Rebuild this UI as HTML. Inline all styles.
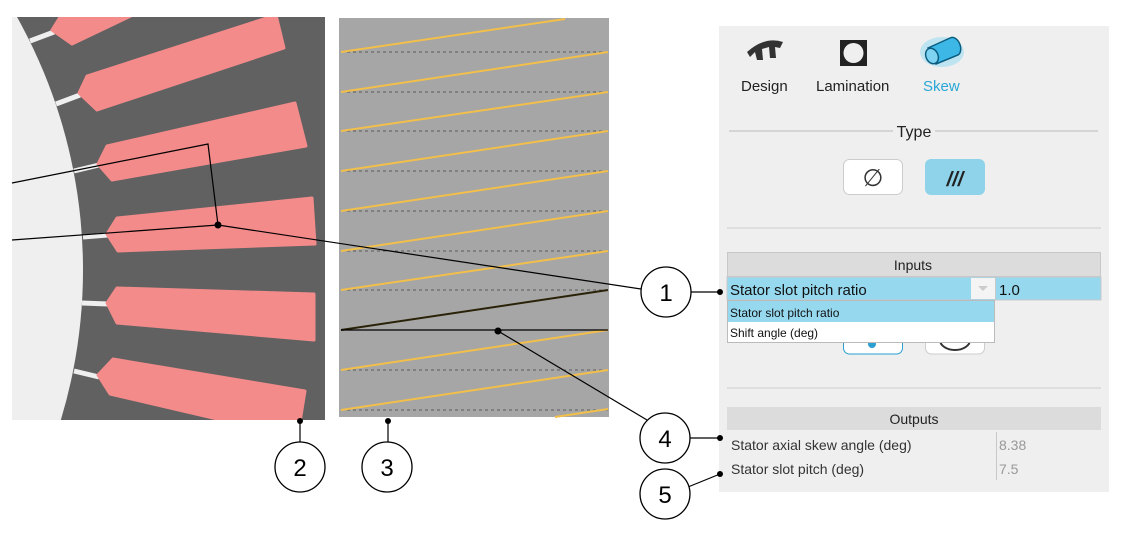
<!DOCTYPE html>
<html><head><meta charset="utf-8"><style>
html,body{margin:0;padding:0;background:#fff;width:1129px;height:544px;overflow:hidden}
svg{position:absolute;left:0;top:0;display:block}
text{font-family:"Liberation Sans",Arial,sans-serif}
</style></head><body>
<svg width="1129" height="544" viewBox="0 0 1129 544">
<defs><clipPath id="lp"><rect x="12" y="17" width="313" height="403"/></clipPath></defs>
<g clip-path="url(#lp)">
<rect x="12" y="17" width="313" height="403" fill="#616161"/>
<circle cx="-435" cy="270" r="518" fill="#efefef"/>
<g stroke="#efefef" stroke-width="5">
<line x1="30" y1="41" x2="54" y2="32"/><line x1="56" y1="104" x2="80" y2="95"/>
<line x1="74" y1="171" x2="99" y2="165"/><line x1="83" y1="237" x2="108" y2="235"/>
<line x1="82" y1="303" x2="108" y2="304"/><line x1="74" y1="371" x2="99" y2="377"/>
</g>
<g fill="#f48b8b" stroke="#f48b8b" stroke-width="3" stroke-linejoin="round">
<polygon points="52,30 62,14 135,14 72,44"/>
<polygon points="87,76 276,15 284,48 97,110 79,93"/>
<polygon points="107,146 295,103 306,146 112,180 98,164"/>
<polygon points="117,218 312,198 315,244 118,251 107,234"/>
<polygon points="117,288 314,294 314,340 117,323 107,303"/>
<polygon points="113,359 305,391 300,422 230,422 110,394 98,375"/>
</g>
</g>
<rect x="339" y="18" width="270" height="399" fill="#a6a6a6"/>
<g stroke="#5a5a5a" stroke-width="1" stroke-dasharray="3,3">
<line x1="341" y1="52" x2="608" y2="52"/><line x1="341" y1="92" x2="608" y2="92"/>
<line x1="341" y1="131" x2="608" y2="131"/><line x1="341" y1="171" x2="608" y2="171"/>
<line x1="341" y1="211" x2="608" y2="211"/><line x1="341" y1="251" x2="608" y2="251"/>
<line x1="341" y1="290" x2="608" y2="290"/><line x1="341" y1="370" x2="608" y2="370"/>
<line x1="341" y1="410" x2="608" y2="410"/>
</g>
<g stroke="#f2bf4a" stroke-width="2">
<line x1="341" y1="52" x2="565" y2="19"/><line x1="341" y1="92" x2="608" y2="52"/>
<line x1="341" y1="131" x2="608" y2="92"/><line x1="341" y1="171" x2="608" y2="131"/>
<line x1="341" y1="211" x2="608" y2="171"/><line x1="341" y1="251" x2="608" y2="211"/>
<line x1="341" y1="290" x2="608" y2="251"/><line x1="341" y1="370" x2="608" y2="330"/>
<line x1="341" y1="410" x2="608" y2="370"/><line x1="555" y1="417" x2="608" y2="409"/>
</g>
<line x1="341" y1="330" x2="608" y2="290" stroke="#2a2208" stroke-width="2"/>
<line x1="341" y1="330" x2="608" y2="330" stroke="#000" stroke-width="1.3"/>
<g stroke="#000" stroke-width="1.2" fill="none">
<polyline points="12,183 208,144 218,225"/>
<line x1="12" y1="240" x2="218" y2="225"/>
<line x1="218" y1="225" x2="641" y2="289"/>
<line x1="498" y1="331" x2="647" y2="420"/>
<line x1="300" y1="421" x2="300" y2="442"/>
<line x1="388" y1="421" x2="388" y2="442"/>
<line x1="691" y1="292" x2="720" y2="292"/>
<line x1="690" y1="438" x2="720" y2="438"/>
<line x1="688" y1="487" x2="720" y2="474"/>
</g>
<rect x="719" y="26" width="390" height="466" fill="#efefef"/>
<g fill="#000">
<circle cx="218" cy="225" r="3.5"/><circle cx="498" cy="331" r="3.5"/>
<circle cx="300" cy="421" r="3"/><circle cx="388" cy="421" r="3"/>
<circle cx="720" cy="292" r="3"/><circle cx="720" cy="438" r="3"/><circle cx="720" cy="474" r="3"/>
</g>
<g fill="#fff" stroke="#000" stroke-width="1.3">
<circle cx="666" cy="292" r="25"/><circle cx="300" cy="467" r="25"/><circle cx="387" cy="467" r="25"/>
<circle cx="665" cy="438" r="25"/><circle cx="665" cy="494" r="25"/>
</g>
<g font-size="24" text-anchor="middle" fill="#000">
<text x="666" y="301">1</text><text x="300" y="476">2</text><text x="387" y="476">3</text>
<text x="665" y="447">4</text><text x="665" y="503">5</text>
</g>
<path d="M747,52 Q765,36 783,42 L780,48 L775,47 L776,58 L770,58 L769,47 L762,49 L763,60 L757,60 L755,52 L750,57 Z" fill="#333"/>
<rect x="840" y="40" width="27" height="26" fill="#222"/><circle cx="853.5" cy="53" r="10" fill="#efefef"/>
<g>
<ellipse cx="942" cy="52" rx="22" ry="15" fill="#9fdcf2" opacity="0.6"/>
<path d="M928,48 L950,38 A6,9 -20 0 1 958,55 L936,64 Z" fill="#3cb7e6" stroke="#0b5d80" stroke-width="1.5"/>
<ellipse cx="932" cy="56" rx="6" ry="8" transform="rotate(-25 932 56)" fill="#7fd3f2" stroke="#0b5d80" stroke-width="1.5"/>
</g>
<g font-size="15" fill="#222">
<text x="741" y="91">Design</text><text x="816" y="91">Lamination</text>
<text x="923" y="91" fill="#2aa7d6">Skew</text>
</g>
<line x1="729" y1="131" x2="893" y2="131" stroke="#bbb"/><line x1="935" y1="131" x2="1098" y2="131" stroke="#bbb"/>
<text x="914" y="137" font-size="16" fill="#222" text-anchor="middle">Type</text>
<rect x="843.5" y="159.5" width="59" height="35" rx="6" fill="#fff" stroke="#ccc"/>
<text x="873" y="186" font-size="24" fill="#333" text-anchor="middle">∅</text>
<rect x="925" y="159" width="60" height="36" rx="6" fill="#8fd3ea"/>
<text x="955" y="186" font-size="20" font-style="italic" font-weight="bold" fill="#222" text-anchor="middle">///</text>
<line x1="727" y1="228" x2="1101" y2="228" stroke="#ccc"/>
<rect x="843.5" y="325" width="59" height="29" rx="6" fill="#fff" stroke="#2a9fd0"/>
<rect x="925.5" y="325" width="59" height="29" rx="6" fill="#fff" stroke="#ccc"/>
<path d="M940,340 A15,10 0 0 0 970,340" fill="none" stroke="#333" stroke-width="2"/>
<circle cx="872" cy="344" r="4" fill="#2a9fd0"/>
<rect x="727.5" y="252.5" width="373" height="24" fill="#dcdcdc" stroke="#c8c8c8"/>
<text x="913" y="270" font-size="14" fill="#222" text-anchor="middle">Inputs</text>
<rect x="727" y="277" width="374" height="23" fill="#96d9ef" stroke="#c8c8c8"/>
<rect x="971" y="278" width="24" height="21" fill="#f4f4f4"/>
<path d="M978,286 L988,286 L983,291 Z" fill="#ccc"/>
<line x1="995.5" y1="277" x2="995.5" y2="300" stroke="#c8c8c8"/>
<text x="730" y="295" font-size="15" fill="#111">Stator slot pitch ratio</text>
<text x="999" y="295" font-size="15" fill="#111">1.0</text>
<rect x="727.5" y="300.5" width="267" height="42" fill="#fff" stroke="#bbb"/>
<rect x="728" y="301" width="266" height="21" fill="#96d9ef"/>
<text x="730" y="317" font-size="12" fill="#111">Stator slot pitch ratio</text>
<text x="730" y="337" font-size="12" fill="#111">Shift angle (deg)</text>
<line x1="727" y1="388" x2="1101" y2="388" stroke="#ccc"/>
<rect x="727" y="407" width="374" height="23" fill="#dcdcdc"/>
<text x="914" y="424" font-size="14" fill="#222" text-anchor="middle">Outputs</text>
<line x1="996.5" y1="432" x2="996.5" y2="480" stroke="#c8c8c8"/>
<text x="731" y="450" font-size="14" fill="#333">Stator axial skew angle (deg)</text>
<text x="999" y="450" font-size="14" fill="#999">8.38</text>
<text x="731" y="474" font-size="14" fill="#333">Stator slot pitch (deg)</text>
<text x="999" y="474" font-size="14" fill="#999">7.5</text>
</svg>
</body></html>
